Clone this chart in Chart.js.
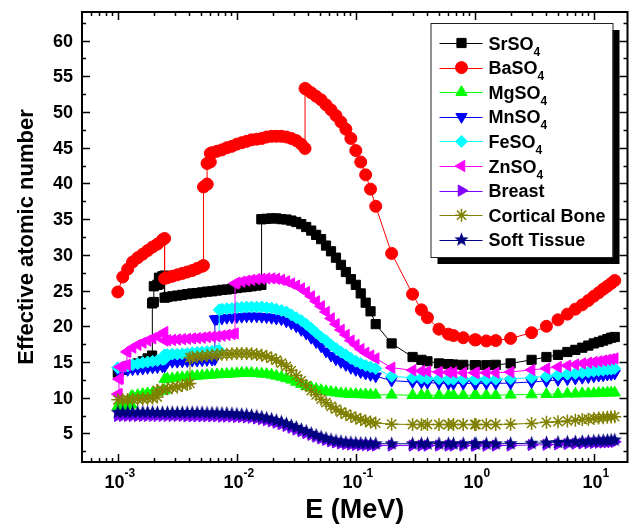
<!DOCTYPE html>
<html>
<head>
<meta charset="utf-8">
<script src="https://cdn.jsdelivr.net/npm/chart.js@4.4.0/dist/chart.umd.min.js"></script>
<style>
  html, body { margin: 0; padding: 0; background: #fff; }
  #wrap { width: 636px; height: 530px; }
</style>
</head>
<body>
<div id="wrap"><canvas id="zeffChart" width="636" height="530"></canvas></div>
<script>
// Photon energy grids: dense part in keV, sparse part in MeV
const E_LOW_KEV = [1.00, 1.10, 1.21, 1.33, 1.47, 1.62, 1.78, 1.96, 2.15, 2.37, 2.61, 2.87,
  3.16, 3.48, 3.83, 4.22, 4.64, 5.11, 5.62, 6.19, 6.81, 7.50, 8.25, 9.09, 10.0, 11.0, 12.1,
  13.3, 14.7, 16.2, 17.8, 19.6, 21.5, 23.7, 26.1, 28.7, 31.6, 34.8, 38.3, 42.2, 46.4, 51.1,
  56.2, 61.9, 68.1, 75.0, 82.5, 90.9, 100, 110, 121, 133, 147];
const E_HIGH_MEV = [0.2, 0.3, 0.356, 0.4, 0.5, 0.6, 0.662, 0.8, 1.0, 1.022, 1.25, 1.5,
  2, 3, 4, 5, 6, 7, 8, 9, 10, 11, 12, 13, 14, 15];

// Effective atomic number per material: low grid, edges [keV, below, above], high grid
const srLow = [13.5, 13.9, 14.2, 14.5, 14.8, 15.1, 15.5, 23.3, 25.8, 27.0, 24.1, 24.2, 24.3,
  24.4, 24.5, 24.6, 24.65, 24.75, 24.85, 24.9, 25.0, 25.1, 25.15, 25.25, 25.35, 25.45, 25.5,
  25.6, 25.7, 35.0, 35.05, 35.1, 35.1, 35.0, 34.95, 34.8, 34.6, 34.3, 33.9, 33.4, 32.8, 32.2,
  31.3, 30.5, 29.6, 28.6, 27.6, 26.6, 25.8, 24.6, 23.3, 22.1, 20.3];
const srEdges = [[1.94, 15.9, 23.2], [2.007, 23.4, 25.6], [2.216, 25.9, 26.8], [2.472, 27.1, 24.0], [16.1, 25.8, 35.0]];
const srHigh = [17.6, 15.7, 15.3, 15.1, 14.8, 14.7, 14.65, 14.6, 14.55, 14.55, 14.55, 14.6, 14.8,
  15.3, 15.7, 16.0, 16.4, 16.7, 17.0, 17.3, 17.6, 17.8, 18.0, 18.2, 18.4, 18.5];

const baLow = [24.8, 26.9, 28.0, 29.0, 29.6, 30.1, 30.6, 31.1, 31.5, 32.1, 26.8, 27.0, 27.2,
  27.4, 27.6, 27.8, 28.1, 28.4, 39.9, 44.3, 44.5, 44.7, 45.0, 45.2, 45.5, 45.7, 45.9, 46.1,
  46.2, 46.3, 46.5, 46.6, 46.6, 46.6, 46.5, 46.3, 46.0, 45.5, 53.2, 52.7, 52.2, 51.7, 51.0,
  50.3, 49.5, 48.6, 47.6, 46.3, 44.6, 43.0, 41.2, 39.2, 36.8];
const baEdges = [[2.472, 32.3, 26.7], [5.247, 28.5, 39.5], [5.624, 39.9, 42.8], [5.989, 43.0, 44.2], [37.44, 44.9, 53.3]];
const baHigh = [30.2, 24.5, 22.3, 21.2, 19.6, 18.9, 18.7, 18.4, 18.1, 18.1, 17.95, 18.0, 18.3,
  19.1, 20.0, 20.9, 21.7, 22.4, 23.0, 23.6, 24.2, 24.7, 25.2, 25.6, 26.0, 26.4];

const mgLow = [8.8, 8.85, 8.9, 10.2, 10.35, 10.5, 10.6, 10.7, 10.8, 10.95, 12.65, 12.7, 12.8,
  12.85, 12.9, 13.0, 13.05, 13.1, 13.15, 13.2, 13.25, 13.3, 13.3, 13.35, 13.4, 13.45, 13.45,
  13.45, 13.4, 13.35, 13.3, 13.2, 13.05, 12.9, 12.7, 12.5, 12.2, 11.9, 11.6, 11.4, 11.2, 11.05,
  10.9, 10.8, 10.7, 10.6, 10.55, 10.5, 10.5, 10.45, 10.45, 10.4, 10.4];
const mgEdges = [[1.305, 9.0, 10.2], [2.472, 11.0, 12.6]];
const mgHigh = [10.4, 10.35, 10.35, 10.35, 10.35, 10.35, 10.35, 10.35, 10.35, 10.35, 10.35,
  10.35, 10.4, 10.45, 10.5, 10.5, 10.55, 10.55, 10.6, 10.6, 10.6, 10.65, 10.65, 10.7, 10.7, 10.7];

const mnLow = [13.8, 13.85, 13.9, 14.0, 14.05, 14.1, 14.2, 14.25, 14.3, 14.4, 15.0, 15.05, 15.05,
  15.1, 15.15, 15.2, 15.2, 15.25, 15.3, 15.35, 21.05, 21.1, 21.2, 21.25, 21.3, 21.35, 21.4,
  21.4, 21.4, 21.35, 21.3, 21.2, 21.1, 21.0, 20.7, 20.4, 20.0, 19.5, 19.0, 18.4, 17.8, 17.2,
  16.5, 15.9, 15.4, 15.0, 14.6, 14.2, 13.9, 13.6, 13.4, 13.2, 13.0];
const mnEdges = [[2.472, 14.4, 15.0], [6.539, 15.4, 21.0]];
const mnHigh = [12.4, 12.2, 12.15, 12.1, 12.05, 12.0, 12.0, 12.0, 12.0, 12.0, 12.0, 12.0, 12.05,
  12.2, 12.35, 12.5, 12.6, 12.7, 12.8, 12.9, 13.0, 13.1, 13.15, 13.25, 13.3, 13.4];

const feLow = [14.2, 14.3, 14.45, 14.6, 14.75, 14.9, 15.0, 15.1, 15.2, 15.35, 16.05, 16.1, 16.1,
  16.15, 16.2, 16.3, 16.35, 16.4, 16.45, 16.5, 16.55, 22.4, 22.45, 22.5, 22.6, 22.65, 22.7,
  22.7, 22.7, 22.7, 22.6, 22.55, 22.4, 22.2, 22.0, 21.6, 21.2, 20.8, 20.3, 19.7, 19.1, 18.5,
  18.0, 17.4, 16.9, 16.4, 16.0, 15.5, 15.1, 14.8, 14.5, 14.3, 14.1];
const feEdges = [[2.472, 15.4, 16.0], [7.112, 16.6, 22.3]];
const feHigh = [13.0, 12.8, 12.75, 12.7, 12.65, 12.6, 12.6, 12.6, 12.6, 12.6, 12.6, 12.6, 12.65,
  12.8, 13.0, 13.2, 13.3, 13.4, 13.5, 13.6, 13.7, 13.8, 13.85, 13.95, 14.0, 14.1];

const znLow = [10.5, 14.4, 16.5, 17.0, 17.4, 17.7, 18.0, 18.3, 18.6, 19.0, 18.05, 18.1, 18.15,
  18.2, 18.25, 18.3, 18.35, 18.4, 18.5, 18.55, 18.6, 18.7, 18.8, 18.9, 26.1, 26.25, 26.4,
  26.5, 26.6, 26.65, 26.7, 26.7, 26.65, 26.5, 26.3, 26.0, 25.7, 25.3, 24.8, 24.2, 23.5, 22.8,
  22.0, 21.1, 20.3, 19.5, 18.8, 18.0, 17.4, 16.8, 16.3, 15.9, 15.5];
const znEdges = [[1.022, 10.5, 12.6], [1.043, 12.7, 14.3], [1.194, 14.6, 16.4], [2.472, 19.2, 18.0], [9.659, 19.0, 26.0]];
const znHigh = [14.2, 13.85, 13.75, 13.7, 13.6, 13.55, 13.55, 13.5, 13.5, 13.5, 13.5, 13.5, 13.6,
  13.9, 14.1, 14.3, 14.5, 14.65, 14.8, 14.9, 15.0, 15.1, 15.2, 15.3, 15.4, 15.5];

const breastLow = [7.45, 7.45, 7.45, 7.45, 7.45, 7.45, 7.45, 7.45, 7.45, 7.45, 7.45, 7.45, 7.45,
  7.45, 7.4, 7.4, 7.4, 7.4, 7.4, 7.4, 7.4, 7.35, 7.35, 7.35, 7.3, 7.3, 7.25, 7.2, 7.1, 7.0,
  6.85, 6.7, 6.5, 6.3, 6.05, 5.8, 5.55, 5.3, 5.05, 4.8, 4.55, 4.3, 4.1, 3.9, 3.75, 3.6, 3.5,
  3.45, 3.4, 3.35, 3.35, 3.3, 3.3];
const breastEdges = [];
const breastHigh = [3.3, 3.3, 3.3, 3.3, 3.3, 3.3, 3.3, 3.3, 3.3, 3.3, 3.3, 3.3, 3.32, 3.38, 3.42,
  3.47, 3.52, 3.56, 3.6, 3.64, 3.67, 3.7, 3.73, 3.76, 3.79, 3.82];

const boneLow = [9.7, 9.72, 9.75, 9.8, 9.82, 9.85, 9.9, 9.95, 11.0, 11.1, 11.25, 11.4, 11.5,
  11.7, 11.9, 15.65, 15.75, 15.8, 15.9, 15.95, 16.0, 16.1, 16.1, 16.15, 16.2, 16.2, 16.2,
  16.15, 16.05, 15.95, 15.8, 15.55, 15.25, 14.85, 14.4, 13.8, 13.1, 12.4, 11.7, 11.0, 10.4,
  9.8, 9.3, 8.8, 8.4, 8.0, 7.7, 7.4, 7.15, 6.95, 6.75, 6.6, 6.45];
const boneEdges = [[2.145, 10.1, 11.0], [4.038, 12.0, 15.6]];
const boneHigh = [6.3, 6.25, 6.25, 6.25, 6.25, 6.25, 6.25, 6.25, 6.25, 6.25, 6.25, 6.25, 6.3,
  6.4, 6.55, 6.65, 6.75, 6.85, 6.95, 7.0, 7.1, 7.15, 7.2, 7.25, 7.3, 7.35];

const tissueLow = [7.95, 7.95, 7.95, 7.95, 7.95, 7.95, 7.95, 7.95, 7.9, 7.9, 7.9, 7.9, 7.9,
  7.9, 7.9, 7.9, 7.9, 7.9, 7.85, 7.85, 7.85, 7.8, 7.8, 7.75, 7.7, 7.65, 7.6, 7.5, 7.4, 7.3,
  7.15, 7.0, 6.8, 6.6, 6.35, 6.1, 5.85, 5.55, 5.3, 5.0, 4.75, 4.5, 4.3, 4.1, 3.95, 3.85, 3.75,
  3.7, 3.65, 3.6, 3.6, 3.55, 3.55];
const tissueEdges = [];
const tissueHigh = [3.55, 3.55, 3.55, 3.55, 3.55, 3.55, 3.55, 3.55, 3.55, 3.55, 3.55, 3.55, 3.57,
  3.63, 3.68, 3.73, 3.78, 3.82, 3.86, 3.9, 3.93, 3.96, 3.99, 4.02, 4.05, 4.08];

// Axis ticks
const X_MAJOR = [1e-3, 1e-2, 1e-1, 1, 10];
const X_EXPONENTS = ['-3', '-2', '-1', '0', '1'];
const Y_MAJOR = [5, 10, 15, 20, 25, 30, 35, 40, 45, 50, 55, 60];

/**
 * Build a five-point star image for the Soft Tissue markers
 */
function makeStarImage(color, r) {
  const c = document.createElement('canvas');
  const s = Math.ceil(r * 2) + 2;
  c.width = s;
  c.height = s;
  const g = c.getContext('2d');
  g.fillStyle = color;
  g.beginPath();
  for (let k = 0; k < 10; k++) {
    const rr = k % 2 ? r * 0.42 : r;
    const a = -Math.PI / 2 + k * Math.PI / 5;
    g.lineTo(s / 2 + rr * Math.cos(a), s / 2 + rr * Math.sin(a));
  }
  g.closePath();
  g.fill();
  return c;
}

/**
 * Merge grid values and edge jumps into one sorted point list
 */
function buildPoints(low, edges, high) {
  const pts = [];
  E_LOW_KEV.forEach((e, i) => pts.push({ x: e / 1000, y: low[i], k: 0 }));
  edges.forEach(([e, below, above]) => {
    pts.push({ x: e / 1000, y: below, k: 0 });
    pts.push({ x: e / 1000, y: above, k: 1 });
  });
  pts.sort((a, b) => (a.x - b.x) || (a.k - b.k));
  E_HIGH_MEV.forEach((e, i) => pts.push({ x: e, y: high[i], k: 0 }));
  return pts;
}

const starImg = makeStarImage('#000080', 7.5);

const SERIES = [
  { name: 'SrSO', sub: '4', color: '#000000', style: 'rect', rot: 0, r: 6.5, bw: 1, low: srLow, edges: srEdges, high: srHigh },
  { name: 'BaSO', sub: '4', color: '#ff0000', style: 'circle', rot: 0, r: 6, bw: 1, low: baLow, edges: baEdges, high: baHigh },
  { name: 'MgSO', sub: '4', color: '#00ff00', style: 'triangle', rot: 0, r: 6.5, bw: 1, low: mgLow, edges: mgEdges, high: mgHigh },
  { name: 'MnSO', sub: '4', color: '#0000ff', style: 'triangle', rot: 180, r: 6.5, bw: 1, low: mnLow, edges: mnEdges, high: mnHigh },
  { name: 'FeSO', sub: '4', color: '#00ffff', style: 'rectRot', rot: 0, r: 6, bw: 1, low: feLow, edges: feEdges, high: feHigh },
  { name: 'ZnSO', sub: '4', color: '#ff00ff', style: 'triangle', rot: 270, r: 6.5, bw: 1, low: znLow, edges: znEdges, high: znHigh },
  { name: 'Breast', sub: '', color: '#8000ff', style: 'triangle', rot: 90, r: 6.5, bw: 1, low: breastLow, edges: breastEdges, high: breastHigh },
  { name: 'Cortical Bone', sub: '', color: '#808000', style: 'star', rot: 0, r: 6.5, bw: 1.5, low: boneLow, edges: boneEdges, high: boneHigh },
  { name: 'Soft Tissue', sub: '', color: '#000080', style: starImg, rot: 0, r: 7.5, bw: 1, low: tissueLow, edges: tissueEdges, high: tissueHigh }
];

const FONT = "'Liberation Sans', Arial, sans-serif";

/**
 * Draw a legend marker, using Chart.js helpers when available
 */
function drawMarker(ctx, s, x, y) {
  ctx.fillStyle = s.color;
  ctx.strokeStyle = s.color;
  ctx.lineWidth = s.bw;
  if (Chart.helpers && Chart.helpers.drawPoint) {
    Chart.helpers.drawPoint(ctx, { pointStyle: s.style, rotation: s.rot, radius: s.r, borderWidth: s.bw }, x, y);
  }
}

// Frame, inward ticks, tick labels, titles and legend
const originAxes = {
  id: 'originAxes',
  afterDraw(chart) {
    const { ctx, chartArea: a } = chart;
    const xs = chart.scales.x;
    const ys = chart.scales.y;
    ctx.save();

    // ticks
    ctx.strokeStyle = '#000';
    ctx.lineWidth = 1.5;
    const tickX = (v, len) => {
      const px = Math.round(xs.getPixelForValue(v)) + 0.5;
      ctx.beginPath();
      ctx.moveTo(px, a.bottom); ctx.lineTo(px, a.bottom - len);
      ctx.moveTo(px, a.top); ctx.lineTo(px, a.top + len);
      ctx.stroke();
    };
    const tickY = (v, len) => {
      const py = Math.round(ys.getPixelForValue(v)) + 0.5;
      ctx.beginPath();
      ctx.moveTo(a.left, py); ctx.lineTo(a.left + len, py);
      ctx.moveTo(a.right, py); ctx.lineTo(a.right - len, py);
      ctx.stroke();
    };
    for (let d = 1e-4; d <= 10; d *= 10) {
      for (let m = 2; m <= 9; m++) {
        const v = d * m;
        if (v > xs.min && v < xs.max) tickX(v, 4);
      }
    }
    X_MAJOR.forEach(v => tickX(v, 8));
    Y_MAJOR.forEach(v => { tickY(v, 8); tickY(v - 2.5, 4); });
    tickY(62.5, 4);

    // frame
    ctx.lineWidth = 2;
    ctx.strokeRect(a.left, a.top, a.right - a.left, a.bottom - a.top);

    // y tick labels
    ctx.fillStyle = '#000';
    ctx.font = 'bold 18px ' + FONT;
    ctx.textAlign = 'right';
    ctx.textBaseline = 'middle';
    Y_MAJOR.forEach(v => ctx.fillText(String(v), a.left - 9, ys.getPixelForValue(v) + 1));

    // x tick labels 10^n
    ctx.textAlign = 'left';
    ctx.textBaseline = 'alphabetic';
    X_MAJOR.forEach((v, i) => {
      const px = xs.getPixelForValue(v);
      ctx.font = 'bold 18px ' + FONT;
      const w1 = ctx.measureText('10').width;
      ctx.font = 'bold 12px ' + FONT;
      const w2 = ctx.measureText(X_EXPONENTS[i]).width;
      const x0 = px - (w1 + w2) / 2 + 2;
      ctx.font = 'bold 18px ' + FONT;
      ctx.fillText('10', x0, a.bottom + 26);
      ctx.font = 'bold 12px ' + FONT;
      ctx.fillText(X_EXPONENTS[i], x0 + w1, a.bottom + 15);
    });

    // axis titles
    ctx.font = 'bold 27px ' + FONT;
    ctx.textAlign = 'center';
    ctx.fillText('E (MeV)', (a.left + a.right) / 2, 518);
    ctx.save();
    ctx.translate(27, (a.top + a.bottom) / 2);
    ctx.rotate(-Math.PI / 2);
    ctx.font = 'bold 22px ' + FONT;
    ctx.textBaseline = 'middle';
    ctx.fillText('Effective atomic number', 0, 0);
    ctx.restore();

    // legend box with shadow
    const lx = a.right - 197, ly = a.top + 11, lw = 182, lh = 234;
    ctx.fillStyle = '#000';
    ctx.fillRect(lx + 7, ly + 7, lw, lh);
    ctx.fillStyle = '#fff';
    ctx.fillRect(lx, ly, lw, lh);
    ctx.strokeStyle = '#222';
    ctx.lineWidth = 1;
    ctx.strokeRect(lx + 0.5, ly + 0.5, lw, lh);

    SERIES.forEach((s, i) => {
      const cy = ly + 20 + i * 24.6;
      ctx.strokeStyle = s.color;
      ctx.lineWidth = 1;
      ctx.beginPath();
      ctx.moveTo(lx + 9, Math.round(cy) + 0.5);
      ctx.lineTo(lx + 52, Math.round(cy) + 0.5);
      ctx.stroke();
      drawMarker(ctx, s, lx + 31, cy);
      ctx.fillStyle = '#000';
      ctx.textAlign = 'left';
      ctx.textBaseline = 'alphabetic';
      ctx.font = 'bold 18px ' + FONT;
      ctx.fillText(s.name, lx + 58, cy + 6.5);
      if (s.sub) {
        const w = ctx.measureText(s.name).width;
        ctx.font = 'bold 12px ' + FONT;
        ctx.fillText(s.sub, lx + 58 + w, cy + 12.5);
      }
    });

    ctx.restore();
  }
};

new Chart(document.getElementById('zeffChart'), {
  type: 'scatter',
  data: {
    datasets: SERIES.map((s, i) => ({
      label: s.name + s.sub,
      data: buildPoints(s.low, s.edges, s.high),
      showLine: true,
      borderColor: s.color,
      borderWidth: 1,
      backgroundColor: s.color,
      pointStyle: s.style,
      pointRotation: s.rot,
      pointRadius: s.r,
      pointBorderWidth: s.bw,
      pointBorderColor: s.color,
      pointBackgroundColor: s.color,
      tension: 0,
      order: SERIES.length - i
    }))
  },
  options: {
    responsive: false,
    animation: false,
    devicePixelRatio: 1,
    layout: { padding: { left: 82, top: 12, right: 4, bottom: 68 } },
    plugins: {
      legend: { display: false },
      tooltip: { enabled: false }
    },
    scales: {
      x: { type: 'logarithmic', min: 5e-4, max: 19.2, display: false },
      y: { type: 'linear', min: 1, max: 64, display: false }
    }
  },
  plugins: [originAxes]
});
</script>
</body>
</html>
